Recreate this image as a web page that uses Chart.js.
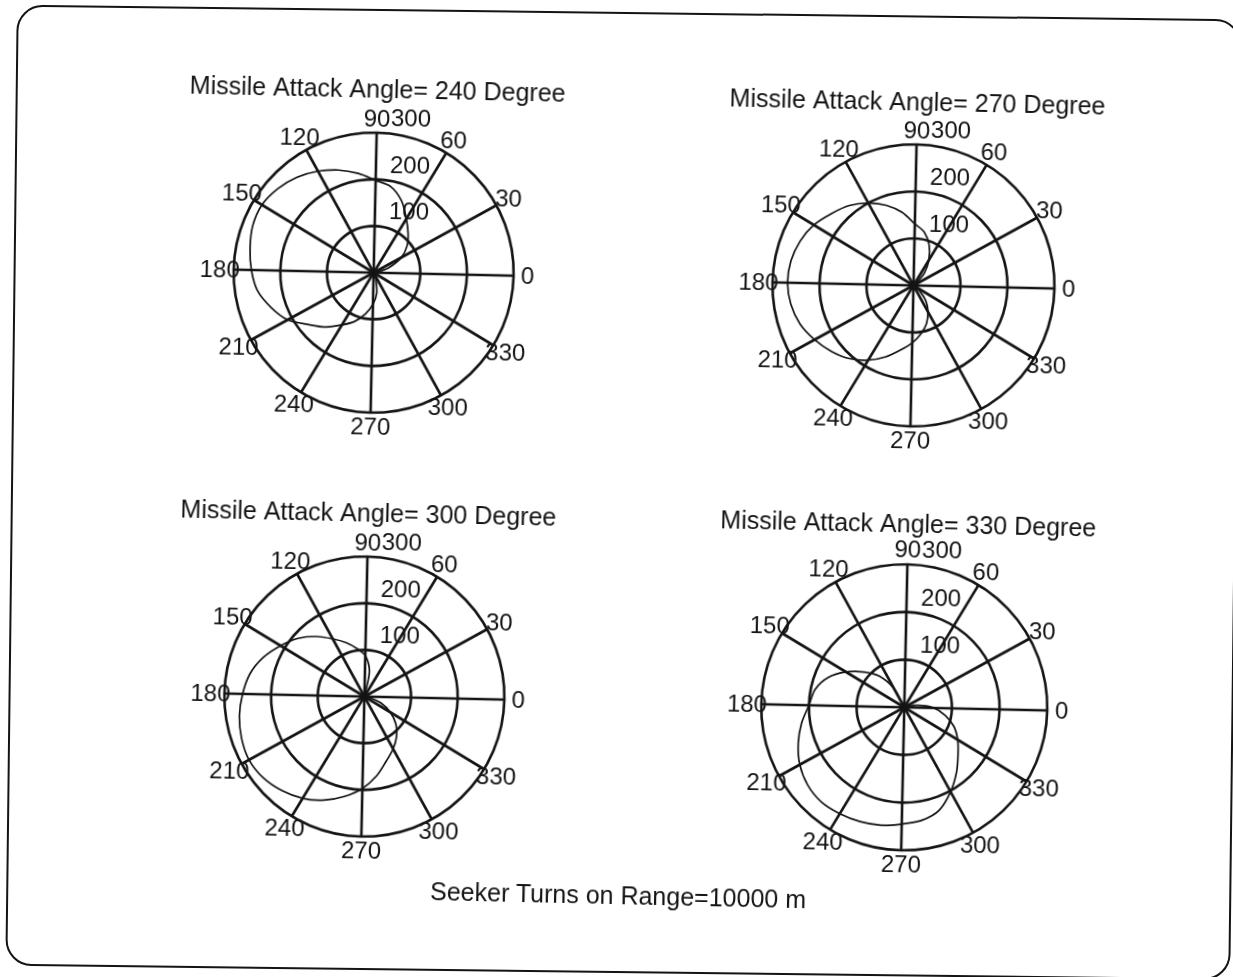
<!DOCTYPE html>
<html>
<head>
<meta charset="utf-8">
<script src="https://cdn.jsdelivr.net/npm/chart.js@4.4.1/dist/chart.umd.min.js"></script>
<style>
  html, body { margin:0; padding:0; background:#fff; width:1233px; height:977px; overflow:hidden; }
  #frame { position:absolute; left:10.8px; top:11.8px; width:1225px; height:961px; box-sizing:border-box;
           border:2.5px solid #141414; border-radius:26px; transform:rotate(0.68deg); }
  #sheet { position:absolute; left:0; top:0; width:1233px; height:977px;
           transform-origin:616px 488px; transform:rotate(1.25deg); }
  .plot { position:absolute; }
  #caption { position:absolute; left:377px; top:880px; width:500px; text-align:center; white-space:nowrap;
             font:25px/30px "Liberation Sans", Arial, sans-serif; color:#141414; }
</style>
</head>
<body>
<div id="frame"></div>
<div id="sheet">
  <canvas id="p0" class="plot"></canvas>
  <canvas id="p1" class="plot"></canvas>
  <canvas id="p2" class="plot"></canvas>
  <canvas id="p3" class="plot"></canvas>
  <div id="caption">Seeker Turns on Range=10000 m</div>
</div>
<script>
// ---------------- data ----------------
// polar angle of each sample, degrees, counter-clockwise from the 0 spoke
const angleDeg = [0,10,20,30,40,50,60,70,80,90,100,110,120,130,140,150,160,170,
                  180,190,200,210,220,230,240,250,260,270,280,290,300,310,320,330,340,350];
// seeker range trace (same radial units as the 100/200/300 rings)
const range240 = [0,8,35,68,92,112,135,165,188,198,215,232,248,262,273,280,278,270,
                  262,252,232,210,178,155,131,112,90,68,44,14,0,0,0,0,0,0];
const range270 = [0,0,0,0,8,35,63,92,116,131,157,180,200,218,232,248,259,266,
                  268,264,255,240,224,207,186,163,140,122,104,86,64,42,17,0,0,0];
const range300 = [0,0,0,0,0,0,0,0,55,88,104,122,141,165,189,210,232,250,
                  261,271,278,282,278,268,255,238,218,197,172,146,128,110,90,65,38,12];
const range330 = [62,28,0,0,0,0,0,0,0,0,0,0,45,84,112,143,172,191,
                  200,218,235,250,260,264,261,257,252,245,240,228,202,175,150,131,112,88];
const attackAngles = [240, 270, 300, 330];
const seriesList = [range240, range270, range300, range330];
const spokeLabels = [0,30,60,90,120,150,180,210,240,270,300,330];
const radialTicks = [100, 200, 300];
const rMax = 300;

// ---------------- layout / style ----------------
const INK = '#141414';
const FONT = '"Liberation Sans", Arial, sans-serif';
const plotPlaces = [ {cx:369, cy:278, R:140}, {cx:909, cy:279, R:141},
                     {cx:369, cy:702, R:140}, {cx:909, cy:701, R:143} ];
const CW = 460, CY = 207, TITLE_LH = 30, PAD_TOP = 10, PAD_BOTTOM = 62;

Chart.defaults.font.family = FONT;

// radar index i sits i*10 degrees clockwise from the 0 spoke
const N = angleDeg.length;
const step = 360 / N;
const radarIndexOf = a => ((N - Math.round(a / step)) % N);
const radarLabels = angleDeg.map((_, i) => angleDeg[(N - i) % N]);

const polarText = {
  id: 'polarText',
  afterDraw(chart) {
    const s = chart.scales.r;
    const ctx = chart.ctx;
    ctx.save();
    ctx.fillStyle = INK;
    ctx.font = '24px ' + FONT;
    ctx.textAlign = 'center';
    ctx.textBaseline = 'middle';
    const d = s.getDistanceFromCenterForValue(rMax * 1.1);
    spokeLabels.forEach(a => {
      const p = s.getPointPosition(radarIndexOf(a), d);
      ctx.fillText(String(a), p.x, p.y + 1);
    });
    ctx.textAlign = 'left';
    ctx.textBaseline = 'alphabetic';
    radialTicks.forEach(v => {
      const y = s.yCenter - s.getDistanceFromCenterForValue(v) - 7;
      ctx.fillText(String(v), s.xCenter + 0.1 * s.drawingArea, y);
    });
    ctx.restore();
  }
};

seriesList.forEach((series, k) => {
  const pl = plotPlaces[k];
  const H = CY + pl.R + PAD_BOTTOM;
  const cv = document.getElementById('p' + k);
  cv.width = CW; cv.height = H;
  cv.style.left = (pl.cx - CW / 2) + 'px';
  cv.style.top = (pl.cy - CY) + 'px';
  new Chart(cv, {
    type: 'radar',
    data: {
      labels: radarLabels,
      datasets: [{
        data: radarLabels.map((_, i) => series[(N - i) % N]),
        borderColor: INK,
        borderWidth: 1.7,
        pointRadius: 0,
        fill: false,
        tension: 0.3
      }]
    },
    options: {
      responsive: false,
      animation: false,
      devicePixelRatio: 1,
      layout: { padding: { top: PAD_TOP, bottom: PAD_BOTTOM, left: 0, right: 0 } },
      plugins: {
        legend: { display: false },
        tooltip: { enabled: false },
        title: {
          display: true,
          text: 'Missile Attack Angle= ' + attackAngles[k] + ' Degree',
          color: INK,
          font: { size: 25, weight: 'normal', family: FONT, lineHeight: TITLE_LH / 25 },
          padding: { top: 0, bottom: CY - pl.R - PAD_TOP - TITLE_LH }
        }
      },
      scales: {
        r: {
          min: 0, max: rMax,
          startAngle: 90,
          ticks: { display: false, stepSize: 100 },
          pointLabels: { display: false },
          grid: { circular: true, color: INK, lineWidth: 2.6 },
          angleLines: {
            color: INK,
            lineWidth: c => (radarLabels[c.index] % 30 === 0 ? 2.6 : 0)
          }
        }
      }
    },
    plugins: [polarText]
  });
});
</script>
</body>
</html>
